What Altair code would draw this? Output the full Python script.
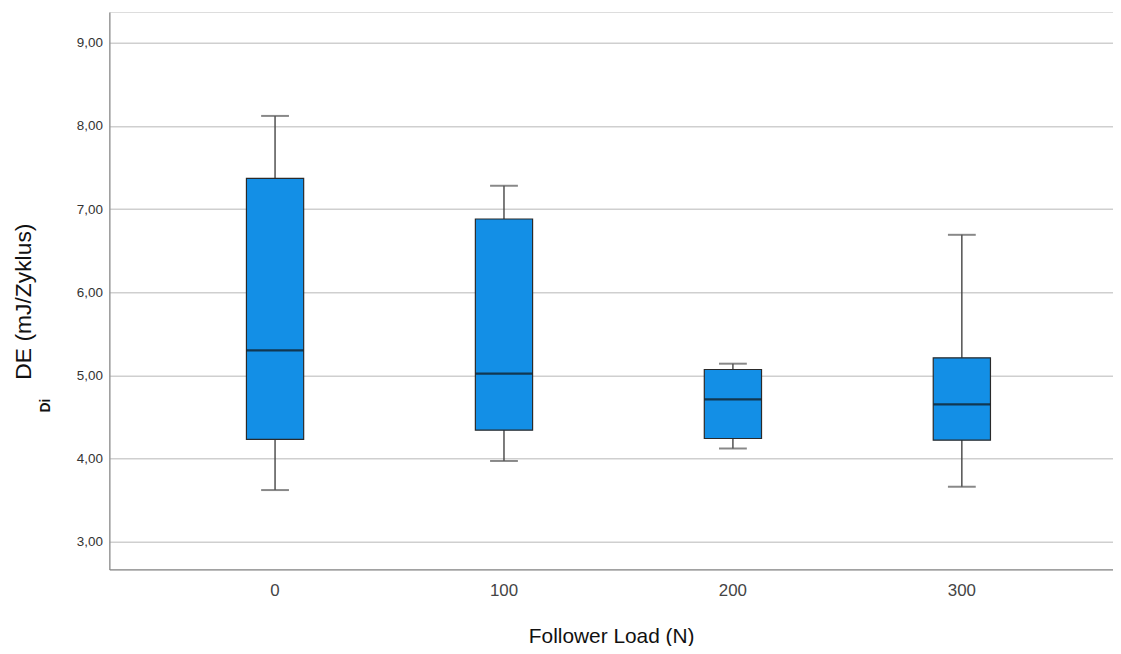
import altair as alt
import pandas as pd

loads = ["0", "100", "200", "300"]
whisker_low = [3.62, 3.97, 4.12, 3.66]
q1 = [4.23, 4.34, 4.24, 4.22]
median = [5.30, 5.02, 4.71, 4.65]
q3 = [7.37, 6.88, 5.07, 5.21]
whisker_high = [8.12, 7.28, 5.14, 6.69]

df = pd.DataFrame({
    "load": loads, "lo": whisker_low, "q1": q1, "med": median,
    "q3": q3, "hi": whisker_high,
})

yscale = alt.Scale(domain=[2.665, 9.37], nice=False, zero=False)
xscale = alt.Scale(paddingInner=0.75, paddingOuter=0.567, align=0.528)
label_expr = "replace(format(datum.value, '.2f'), '.', ',')"

x = alt.X("load:N", scale=xscale, sort=loads, title="Follower Load (N)",
          axis=alt.Axis(labelAngle=0, ticks=False, labelPadding=13, labelFontSize=17,
                        labelColor="#444444", titleFontSize=21, titleFontWeight="normal",
                        titleColor="#111111", titlePadding=28, domainColor="#888888",
                        domainWidth=1.2, labelFont="Liberation Sans", titleFont="Liberation Sans"))

base = alt.Chart(df)

whisk = base.mark_rule(color="#444444", strokeWidth=1.4).encode(
    x=x,
    y=alt.Y("lo:Q", scale=yscale, title=None,
            axis=alt.Axis(values=[3, 4, 5, 6, 7, 8, 9], labelExpr=label_expr, ticks=False,
                          grid=True, gridColor="#cfcfcf", gridWidth=1.5, domainColor="#888888",
                          domainWidth=1.2, labelFontSize=13.5, labelColor="#333333",
                          labelPadding=7, labelFont="Liberation Sans")),
    y2="hi:Q",
)

box = base.mark_bar(color="#138fe6", stroke="#2a2a2a", strokeWidth=1.2).encode(
    x=x, y=alt.Y("q1:Q", scale=yscale), y2="q3:Q"
)

cap_lo = base.mark_tick(color="#555555", size=28, thickness=2).encode(
    x=x, y=alt.Y("lo:Q", scale=yscale))
cap_hi = base.mark_tick(color="#555555", size=28, thickness=2).encode(
    x=x, y=alt.Y("hi:Q", scale=yscale))
med = base.mark_tick(color="#111111", size=57, thickness=2.2).encode(
    x=x, y=alt.Y("med:Q", scale=yscale))

title_df = pd.DataFrame({"t": ["DE (mJ/Zyklus)"]})
ytitle = alt.Chart(title_df).mark_text(angle=270, align="left", baseline="middle",
                                       fontSize=23, font="Liberation Sans", color="#111111").encode(
    text="t:N", x=alt.value(-86), y=alt.value(370))
di_df = pd.DataFrame({"t": ["Di"]})
di = alt.Chart(di_df).mark_text(angle=270, align="left", baseline="middle",
                                fontSize=14, fontWeight="bold", font="Liberation Sans",
                                color="#111111").encode(
    text="t:N", x=alt.value(-64), y=alt.value(403))

chart = alt.layer(whisk, box, cap_lo, cap_hi, med, ytitle, di).properties(
    width=1010, height=561,
    autosize=alt.AutoSizeParams(type="none"),
    padding={"left": 102, "top": 2, "right": 0, "bottom": 75},
).configure_view(stroke=None).configure(background="white")

chart.save("out.html", embed_options={"renderer": "svg", "actions": False})
